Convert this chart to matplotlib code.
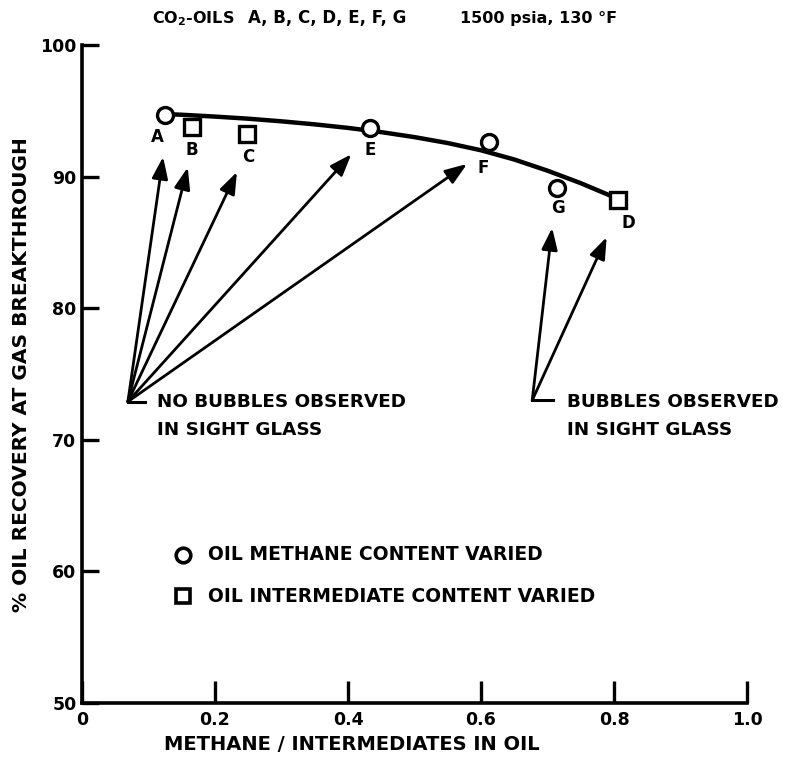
import matplotlib
matplotlib.use("Agg")
import matplotlib.pyplot as plt

# ---- data -------------------------------------------------------------
oil_labels = ["A", "B", "C", "D", "E", "F", "G"]
ratio = [0.125, 0.165, 0.248, 0.806, 0.433, 0.612, 0.714]
recovery = [94.7, 93.8, 93.2, 88.2, 93.7, 92.6, 89.1]
marker_kind = ["o", "s", "s", "s", "o", "o", "o"]   # o: methane varied, s: intermediates varied

# smooth trend line through the measurements
curve_x = [0.125, 0.15, 0.2, 0.25, 0.3, 0.35, 0.4, 0.45, 0.5, 0.55, 0.6, 0.65, 0.7, 0.75, 0.797]
curve_y = [94.75, 94.70, 94.56, 94.40, 94.20, 93.97, 93.70, 93.38, 93.00, 92.55, 92.00,
           91.30, 90.45, 89.50, 88.50]

# letter label positions
label_pos = {"A": (0.113, 93.0), "B": (0.165, 92.0), "C": (0.250, 91.5),
             "D": (0.822, 86.5), "E": (0.433, 92.0), "F": (0.603, 90.65),
             "G": (0.716, 87.6)}

# callout arrows
no_bubble_origin = (0.069, 72.9)
no_bubble_tips = [(0.122, 91.5), (0.159, 90.7), (0.233, 90.35), (0.405, 91.7), (0.579, 90.96)]
bubble_origin = (0.677, 73.0)
bubble_tips = [(0.707, 86.1), (0.789, 85.4)]

x_ticks = [0, 0.2, 0.4, 0.6, 0.8, 1.0]
x_ticklabels = ["0", "0.2", "0.4", "0.6", "0.8", "1.0"]
y_ticks = [50, 60, 70, 80, 90, 100]

# ---- figure -----------------------------------------------------------
plt.rcParams["font.family"] = ["DejaVu Sans"]
plt.rcParams["font.weight"] = "bold"
fig = plt.figure(figsize=(7.9, 7.63), dpi=100)
ax = fig.add_axes([82 / 790, 1 - 703 / 763, 665 / 790, 658 / 763])
ax.set_xlim(0, 1.0)
ax.set_ylim(50, 100)

for s in ("top", "right"):
    ax.spines[s].set_visible(False)
for s in ("left", "bottom"):
    ax.spines[s].set_linewidth(2.6)

ax.set_xticks(x_ticks)
ax.set_xticklabels(x_ticklabels)
ax.set_yticks(y_ticks)
ax.tick_params(axis="x", direction="in", length=16, width=2.4, labelsize=12.5, pad=6)
ax.tick_params(axis="y", direction="in", length=12, width=2.4, labelsize=12.5, pad=4)
for t in ax.get_xticklabels() + ax.get_yticklabels():
    t.set_fontweight("bold")

# trend curve
ax.plot(curve_x, curve_y, color="black", lw=3.2, solid_capstyle="round",
        solid_joinstyle="round", zorder=2)

# measurements
for x, y, m in zip(ratio, recovery, marker_kind):
    ax.plot(x, y, marker=m, ms=11.5 if m == "o" else 12, mfc="white", mec="black",
            mew=2.4, ls="none", zorder=3, clip_on=False)

for lab in oil_labels:
    lx, ly = label_pos[lab]
    ax.text(lx, ly, lab, ha="center", va="center", fontsize=12, fontweight="bold")

# callouts
arrow_kw = dict(arrowstyle="-|>,head_length=0.6,head_width=0.22", color="black", lw=2.0,
                mutation_scale=22, shrinkA=0, shrinkB=0)
for tip in no_bubble_tips:
    ax.annotate("", xy=tip, xytext=no_bubble_origin, arrowprops=arrow_kw)
for tip in bubble_tips:
    ax.annotate("", xy=tip, xytext=bubble_origin, arrowprops=arrow_kw)

ax.plot([no_bubble_origin[0], no_bubble_origin[0] + 0.026],
        [no_bubble_origin[1], no_bubble_origin[1]], color="black", lw=2.2)
ax.plot([bubble_origin[0], bubble_origin[0] + 0.032],
        [bubble_origin[1], bubble_origin[1]], color="black", lw=2.2)

note_fs = 13.2
ax.text(0.113, 72.9, "NO BUBBLES OBSERVED", ha="left", va="center",
        fontsize=note_fs, fontweight="bold")
ax.text(0.113, 70.75, "IN SIGHT GLASS", ha="left", va="center",
        fontsize=note_fs, fontweight="bold")
ax.text(0.729, 72.9, "BUBBLES OBSERVED", ha="left", va="center",
        fontsize=note_fs, fontweight="bold")
ax.text(0.729, 70.75, "IN SIGHT GLASS", ha="left", va="center",
        fontsize=note_fs, fontweight="bold")

# key
ax.plot(0.152, 61.25, marker="o", ms=10.5, mfc="white", mec="black", mew=2.6, ls="none")
ax.plot(0.152, 58.1, marker="s", ms=10.5, mfc="white", mec="black", mew=2.6, ls="none")
ax.text(0.19, 61.25, "OIL METHANE CONTENT VARIED", ha="left", va="center",
        fontsize=13.5, fontweight="bold")
ax.text(0.19, 58.1, "OIL INTERMEDIATE CONTENT VARIED", ha="left", va="center",
        fontsize=13.5, fontweight="bold")

# titles (shared baseline)
title_base = 1 - 23 / 763
fig.text(152 / 790, title_base, "CO$_\\mathbf{2}$-OILS", ha="left",
         va="baseline", fontsize=11.5, fontweight="bold")
fig.text(248 / 790, title_base, "A, B, C, D, E, F, G", ha="left",
         va="baseline", fontsize=12, fontweight="bold")
fig.text(460 / 790, title_base, "1500 psia, 130 °F", ha="left", va="baseline",
         fontsize=11.5, fontweight="bold")
fig.text(352 / 790, 1 - 745 / 763, "METHANE / INTERMEDIATES IN OIL", ha="center",
         va="center", fontsize=14, fontweight="bold")
fig.text(22 / 790, 1 - 375 / 763, "% OIL RECOVERY AT GAS BREAKTHROUGH", ha="center",
         va="center", rotation=90, fontsize=14.5, fontweight="bold")

fig.savefig("out.png", dpi=100, facecolor="white")
